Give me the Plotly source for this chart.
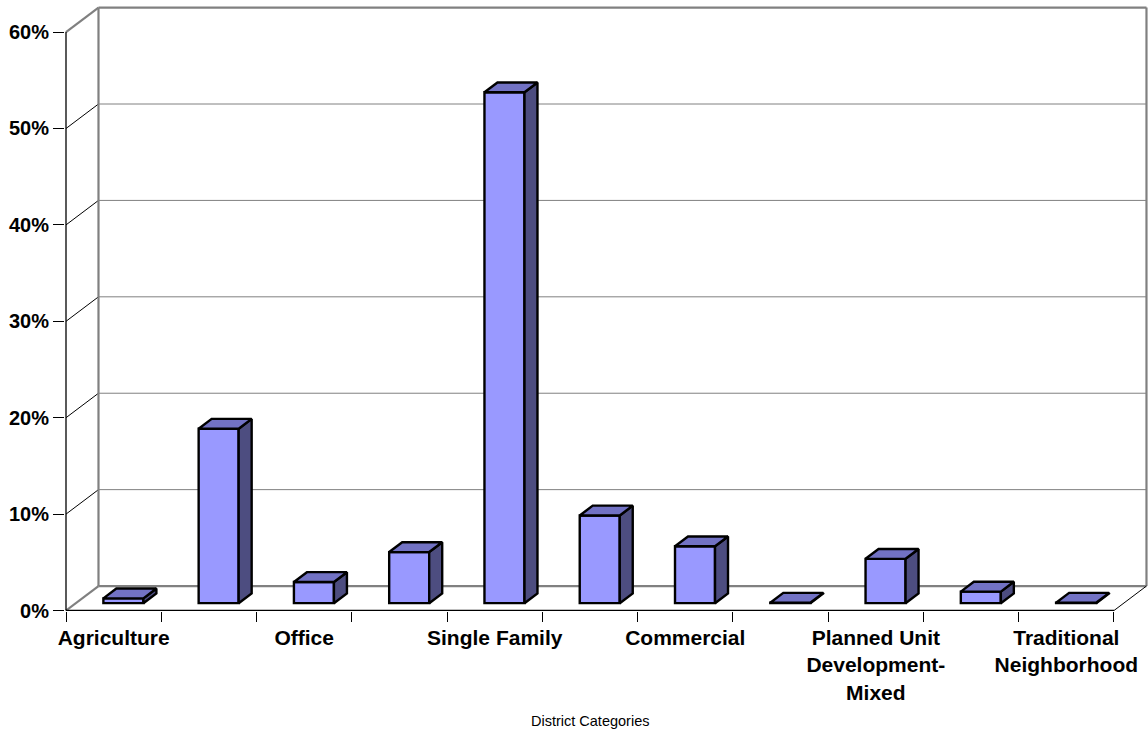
import plotly.graph_objects as go

# ---------------- data ----------------
categories = ["Agriculture", "", "Office", "", "Single Family", "", "Commercial", "",
              "Planned Unit<br>Development-<br>Mixed", "", "Traditional<br>Neighborhood"]
values = [0.5, 18.1, 2.2, 5.3, 53.0, 9.1, 5.9, 0.05, 4.6, 1.2, 0.05]   # percent
y_ticks = [0, 10, 20, 30, 40, 50, 60]
y_tick_labels = [f"{t}%" for t in y_ticks]
x_title = "District Categories"

# ---------------- geometry (pseudo-3D oblique projection) ----------------
n = len(values)
X0, X1 = -0.5, n - 0.5          # front floor edge (category units)
DX, DY = 0.341, 2.54            # full wall depth offset in data units
D0, D1 = 0.30, 0.70             # bar depth (front / back fraction)
BW = 0.42                       # bar width (category units)
YMAX = y_ticks[-1]

FRONT = "#9999FF"
TOP = "#7272C4"
SIDE = "#4D4D80"
WALL = "#808080"
OUTLINE_W = 2.4

fig = go.Figure()

shapes = []
def seg(x0, y0, x1, y1, color, width):
    shapes.append(dict(type="line", xref="x", yref="y", x0=x0, y0=y0, x1=x1, y1=y1,
                       line=dict(color=color, width=width), layer="below"))

# back wall gridlines and side-wall diagonals
for t in y_ticks[1:-1]:
    seg(X0 + DX, t + DY, X1 + DX, t + DY, WALL, 1)
    seg(X0, t, X0 + DX, t + DY, "black", 1)
# back wall frame
seg(X0 + DX, YMAX + DY, X1 + DX, YMAX + DY, WALL, 2.2)
seg(X0 + DX, DY, X0 + DX, YMAX + DY, WALL, 2.2)
seg(X1 + DX, DY, X1 + DX, YMAX + DY, WALL, 2.2)
# floor back edge & left diagonals
seg(X0 + DX, DY, X1 + DX, DY, WALL, 2.2)
seg(X0, 0, X0 + DX, DY, WALL, 2.2)
seg(X0, YMAX, X0 + DX, YMAX + DY, WALL, 2.2)
# front axis line, floor front edge, right floor diagonal
seg(X0, 0, X0, YMAX, "black", 1.3)
seg(X0, 0, X1, 0, "black", 1.3)
seg(X1, 0, X1 + DX, DY, "black", 1)

xs = [i + D0 * DX for i in range(n)]
ddx = (D1 - D0) * DX

# top and side faces
for i, v in enumerate(values):
    xl = xs[i] - BW / 2
    xr = xs[i] + BW / 2
    yf = v + D0 * DY
    yb = v + D1 * DY
    fig.add_trace(go.Scatter(
        x=[xr, xr, xr + ddx, xr + ddx, xr], y=[D0 * DY, yf, yb, D1 * DY, D0 * DY],
        fill="toself", fillcolor=SIDE, mode="lines",
        line=dict(color="black", width=OUTLINE_W), hoverinfo="skip", showlegend=False))
    fig.add_trace(go.Scatter(
        x=[xl, xr, xr + ddx, xl + ddx, xl], y=[yf, yf, yb, yb, yf],
        fill="toself", fillcolor=TOP, mode="lines",
        line=dict(color="black", width=OUTLINE_W), hoverinfo="skip", showlegend=False))

# front faces (bars)
fig.add_trace(go.Bar(
    x=xs, y=values, base=[D0 * DY] * n, width=BW,
    marker=dict(color=FRONT, line=dict(color="black", width=OUTLINE_W)),
    showlegend=False, hovertemplate="%{y}%<extra></extra>"))

label_idx = [i for i, c in enumerate(categories) if c]
fig.update_layout(
    width=1148, height=732,
    margin=dict(l=65, r=0, t=5, b=121),
    paper_bgcolor="white", plot_bgcolor="white",
    shapes=shapes,
    font=dict(family="Liberation Sans, Arial, sans-serif", color="black"),
    xaxis=dict(
        range=[-0.5105, 10.857], showgrid=False, zeroline=False, showline=False,
        tickmode="array", tickvals=label_idx, ticktext=[categories[i] for i in label_idx],
        ticks="", tickfont=dict(size=21, weight="bold", color="black"),
        ticklabelstandoff=12,
        minor=dict(ticks="outside", tickmode="array",
                   tickvals=[X0 + k for k in range(n + 1)],
                   ticklen=10, tickwidth=1, tickcolor="black", showgrid=False),
    ),
    yaxis=dict(
        range=[-0.05, 62.81], showgrid=False, zeroline=False, showline=False,
        tickmode="array", tickvals=y_ticks, ticktext=y_tick_labels,
        ticks="outside", ticklen=11, tickwidth=1, tickcolor="black",
        tickfont=dict(size=20, weight="bold", color="black"),
    ),
    annotations=[dict(
        text=x_title, x=(X0 + X1) / 2, xref="x", y=0, yref="y", yshift=-110,
        showarrow=False, yanchor="middle", xanchor="center",
        font=dict(size=14.5, color="black", family="Liberation Sans, Arial, sans-serif"))],
)

fig.write_html(
    "out.html",
    config={"displayModeBar": False},
    post_script="document.body.style.margin='0';document.body.style.overflow='hidden';",
)
